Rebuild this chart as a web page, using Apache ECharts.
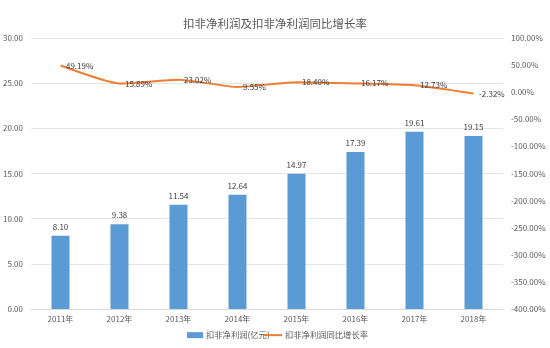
<!DOCTYPE html>
<html><head><meta charset="utf-8">
<script src="https://cdn.jsdelivr.net/npm/echarts@6/dist/echarts.min.js"></script>
<style>html,body{margin:0;padding:0;background:#fff}#c{width:550px;height:348px}</style>
</head><body><div id="c"></div>
<script>
var categories = ['2011年','2012年','2013年','2014年','2015年','2016年','2017年','2018年'];
var profit = [8.10, 9.38, 11.54, 12.64, 14.97, 17.39, 19.61, 19.15];
var growth = [49.19, 15.89, 23.02, 9.55, 18.40, 16.17, 12.73, -2.32];
var chart = echarts.init(document.getElementById('c'));
var font = '"Microsoft YaHei","Noto Sans CJK SC",sans-serif';
chart.setOption({
  animation: false,
  textStyle: {fontFamily: font},
  title: {text: '扣非净利润及扣非净利润同比增长率', left: 'center', top: 13,
    textStyle: {fontSize: 11.5, fontWeight: 'normal', color: '#595959', fontFamily: font}},
  legend: [
    {left: 187, top: 331, padding: 0, itemWidth: 16, itemHeight: 6, itemGap: 4,
      textStyle: {fontSize: 8.3, color: '#595959', padding: [0,0,0,-2]},
      data: [{name: '扣非净利润(亿元)', icon: 'rect'}]},
    {left: 264, top: 331, padding: 0, itemWidth: 18, itemHeight: 2, itemGap: 4,
      textStyle: {fontSize: 8.3, color: '#595959', padding: [0,0,0,-2]},
      data: [{name: '扣非净利润同比增长率', icon: 'rect', itemStyle: {color: '#ed7d31', opacity: 1}}]}
  ],
  grid: {left: 29, right: 47, top: 38, bottom: 39},
  xAxis: {type: 'category', data: categories,
    axisLine: {lineStyle: {color: '#d9d9d9'}}, axisTick: {show: false},
    axisLabel: {fontSize: 8, color: '#595959', margin: 6}},
  yAxis: [
    {type: 'value', min: 0, max: 30, interval: 5,
      axisLabel: {fontSize: 8, color: '#595959', formatter: function(v){return v.toFixed(2);}},
      splitLine: {lineStyle: {color: '#e5e5e5'}}},
    {type: 'value', min: -400, max: 100, interval: 50,
      axisLabel: {fontSize: 8, color: '#595959', formatter: function(v){return v.toFixed(2)+'%';}},
      splitLine: {show: false}}
  ],
  series: [
    {name: '扣非净利润(亿元)', type: 'bar', data: profit, barWidth: 18,
      itemStyle: {color: '#5b9bd5'},
      label: {show: true, position: 'top', fontSize: 8, color: '#404040',
        formatter: function(p){return p.value.toFixed(2);}}},
    {name: '扣非净利润同比增长率', type: 'line', yAxisIndex: 1, data: growth,
      smooth: 0.15, showSymbol: true, symbol: 'circle', symbolSize: 1,
      lineStyle: {color: '#ed7d31', width: 2}, itemStyle: {color: 'rgba(237,125,49,0)'},
      label: {show: true, position: 'right', distance: 5, fontSize: 8, color: '#404040',
        formatter: function(p){return p.value.toFixed(2)+'%';}}}
  ]
});
</script></body></html>
